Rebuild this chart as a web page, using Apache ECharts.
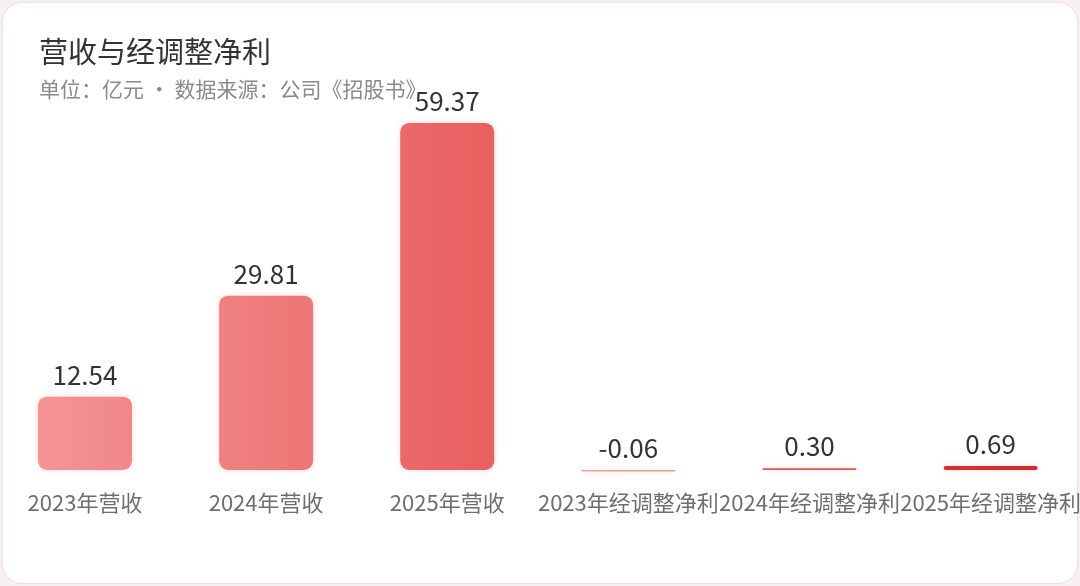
<!DOCTYPE html>
<html><head><meta charset="utf-8">
<script src="https://cdn.jsdelivr.net/npm/echarts@6/dist/echarts.min.js"></script>
<style>
html,body{margin:0;padding:0;background:#f7eff1;overflow:hidden;width:1080px;height:586px;}
#card{position:absolute;left:1.5px;top:1.5px;width:1074px;height:580px;background:#fff;border:1.5px solid #ecdfe2;border-radius:20px;}
#c{position:absolute;left:-6px;top:0;width:1090px;height:586px;}
</style>
</head><body><div id="card"></div><div id="c"></div>
<script>
const categories = ['2023年营收','2024年营收','2025年营收','2023年经调整净利','2024年经调整净利','2025年经调整净利'];
const values = [12.54, 29.81, 59.37, -0.06, 0.30, 0.69];
const valueLabels = ['12.54','29.81','59.37','-0.06','0.30','0.69'];
const barColors = [
  ['#f59494','#f08888'],
  ['#f08080','#ed7676'],
  ['#eb6969','#e86060'],
  ['#eaa0a0','#e89595'],
  ['#e25555','#df4f4f'],
  ['#d63030','#d22a2a']
];
const FONT = '"Noto Sans CJK SC","Noto Sans",sans-serif';
const chart = echarts.init(document.getElementById('c'));
chart.setOption({
  backgroundColor: 'transparent',
  animation: false,
  title: {
    text: '营收与经调整净利',
    subtext: '单位：亿元 · 数据来源：公司《招股书》',
    left: 40, top: 32,
    itemGap: 13,
    textStyle: {fontFamily: FONT, fontSize: 29, fontWeight: 'normal', color: '#333333'},
    subtextStyle: {fontFamily: FONT, fontSize: 21, color: '#8a8a8a'}
  },
  grid: {left: 0.4, right: 2.4, top: 119.3, bottom: 110.2},
  xAxis: {
    type: 'category', data: categories,
    axisLine: {show: false}, axisTick: {show: false},
    axisLabel: {interval: 0, margin: 16, fontFamily: FONT, fontSize: 22, color: '#6e6e6e'}
  },
  yAxis: {
    type: 'value', min: -1, max: 60,
    show: false, splitLine: {show: false}
  },
  series: [{
    type: 'bar',
    barWidth: 94,
    barMinHeight: 1.5,
    data: values.map((v, i) => ({
      value: v,
      label: {position: 'top', formatter: valueLabels[i]},
      itemStyle: {
        color: new echarts.graphic.LinearGradient(0, 0, 1, 0, [
          {offset: 0, color: barColors[i][0]},
          {offset: 1, color: barColors[i][1]}
        ]),
        borderRadius: i < 3 ? 9 : 2,
        shadowBlur: 6,
        shadowColor: 'rgba(230,100,100,0.25)'
      }
    })),
    label: {
      show: true, position: 'top', distance: 9,
      fontFamily: FONT, fontSize: 26, color: '#333333'
    }
  }]
});
</script></body></html>
